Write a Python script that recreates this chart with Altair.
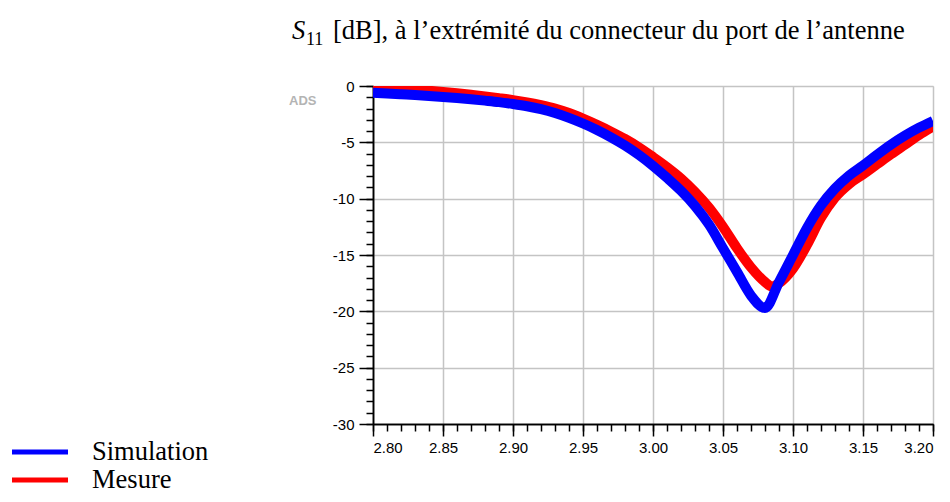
import altair as alt
import pandas as pd

# ---- data ----
freq_sim = [2.80, 2.81, 2.82, 2.83, 2.84, 2.85, 2.86, 2.87, 2.88, 2.89,
            2.90, 2.91, 2.92, 2.93, 2.94, 2.95, 2.96, 2.97, 2.98, 2.99,
            3.00, 3.01, 3.02, 3.03, 3.04, 3.05, 3.06, 3.07, 3.08, 3.09,
            3.10, 3.11, 3.12, 3.13, 3.14, 3.15, 3.16, 3.17, 3.18, 3.19, 3.20]
sim_db = [-0.60, -0.66, -0.73, -0.80, -0.88, -0.97, -1.07, -1.18, -1.30, -1.43,
          -1.60, -1.80, -2.06, -2.40, -2.83, -3.33, -3.90, -4.55, -5.28, -6.12,
          -7.08, -8.15, -9.30, -10.65, -12.30, -14.40, -16.50, -18.60, -19.70, -17.40,
          -15.00, -12.60, -10.60, -9.10, -7.95, -7.05, -6.10, -5.20, -4.40, -3.70, -3.10]

freq_mes = [2.80, 2.81, 2.82, 2.83, 2.84, 2.85, 2.86, 2.87, 2.88, 2.89,
            2.90, 2.91, 2.92, 2.93, 2.94, 2.95, 2.96, 2.97, 2.98, 2.99,
            3.00, 3.01, 3.02, 3.03, 3.04, 3.05, 3.06, 3.07, 3.08, 3.085, 3.09,
            3.10, 3.11, 3.12, 3.13, 3.14, 3.15, 3.16, 3.17, 3.18, 3.19, 3.20]
mes_db = [-0.15, -0.20, -0.26, -0.33, -0.42, -0.53, -0.65, -0.78, -0.92, -1.08,
          -1.25, -1.45, -1.70, -2.00, -2.40, -2.90, -3.45, -4.05, -4.70, -5.45,
          -6.30, -7.20, -8.20, -9.40, -10.80, -12.50, -14.40, -16.10, -17.40, -17.80, -17.50,
          -16.20, -14.10, -11.70, -9.90, -8.70, -7.85, -6.95, -6.05, -5.20, -4.35, -3.60]

series_names = ["Simulation", "Mesure"]
series_colors = ["#0000ff", "#ff0000"]

x_major = [2.80, 2.85, 2.90, 2.95, 3.00, 3.05, 3.10, 3.15, 3.20]
x_minor = [2.80, 2.81, 2.82, 2.83, 2.84, 2.85, 2.86, 2.87, 2.88, 2.89,
           2.90, 2.91, 2.92, 2.93, 2.94, 2.95, 2.96, 2.97, 2.98, 2.99,
           3.00, 3.01, 3.02, 3.03, 3.04, 3.05, 3.06, 3.07, 3.08, 3.09,
           3.10, 3.11, 3.12, 3.13, 3.14, 3.15, 3.16, 3.17, 3.18, 3.19, 3.20]
y_major = [0, -5, -10, -15, -20, -25, -30]
y_minor = list(range(0, -31, -1))

title_s = "S"
title_sub = "11"
title_rest = "[dB], à l’extrémité du connecteur du port de l’antenne"
ads_label = "ADS"

sim_df = pd.DataFrame({"freq": freq_sim, "db": sim_db})
mes_df = pd.DataFrame({"freq": freq_mes, "db": mes_db})

xscale = alt.Scale(domain=[2.80, 3.20], nice=False, zero=False)
yscale = alt.Scale(domain=[-30, 0], nice=False, zero=False)

SANS = "Liberation Sans"
SERIF = "Liberation Serif"

x_major_axis = alt.Axis(values=x_major, format=".2f", title=None, grid=True,
                        gridColor="#c4c4c4", gridWidth=1.5, tickSize=12, tickWidth=1.5,
                        tickColor="black", domainColor="black", domainWidth=1.5,
                        labelFont=SANS, labelFontSize=15, labelColor="black",
                        labelPadding=4, orient="bottom")
y_major_axis = alt.Axis(values=y_major, title=None, grid=True,
                        gridColor="#c4c4c4", gridWidth=1.5, tickSize=14, tickWidth=1.5,
                        tickColor="black", domainColor="black", domainWidth=1.5,
                        labelFont=SANS, labelFontSize=15, labelColor="black",
                        labelPadding=5, labelExpr="'' + datum.value", orient="left")

x_minor_axis = alt.Axis(values=x_minor, title=None, grid=False, labels=False,
                        tickSize=7, tickWidth=1.5, tickColor="black",
                        domainColor="black", domainWidth=1.5, orient="bottom")
y_minor_axis = alt.Axis(values=y_minor, title=None, grid=False, labels=False,
                        tickSize=7, tickWidth=1.5, tickColor="black",
                        domainColor="black", domainWidth=1.5, orient="left")

mes_line = alt.Chart(mes_df).mark_line(color=series_colors[1], strokeWidth=10,
                                       clip=True, interpolate="monotone").encode(
    x=alt.X("freq:Q", scale=xscale, axis=x_major_axis),
    y=alt.Y("db:Q", scale=yscale, axis=y_major_axis),
)
sim_line = alt.Chart(sim_df).mark_line(color=series_colors[0], strokeWidth=10,
                                       clip=True, interpolate="monotone").encode(
    x=alt.X("freq:Q", scale=xscale, axis=None),
    y=alt.Y("db:Q", scale=yscale, axis=None),
)
minor = alt.Chart(sim_df).mark_line(opacity=0).encode(
    x=alt.X("freq:Q", scale=xscale, axis=x_minor_axis),
    y=alt.Y("db:Q", scale=yscale, axis=y_minor_axis),
)

def txt(s, x, y, size, font=SERIF, style="normal", color="black", weight="normal", align="left"):
    return alt.Chart(pd.DataFrame({"t": [s]})).mark_text(
        font=font, fontSize=size, fontStyle=style, color=color, fontWeight=weight,
        align=align, baseline="alphabetic").encode(
        x=alt.value(x), y=alt.value(y), text="t:N")

title_layers = [
    txt(title_s, -81, -47, 26.5, style="italic"),
    txt(title_sub, -67, -41, 18),
    txt(title_rest, -40, -47, 26.5),
    txt(ads_label, -84, 19, 13, font=SANS, color="#b4b4b4", weight="bold"),
]

legend_layers = []
leg_y = [366, 394]
for name, col, ly in zip(series_names, series_colors, leg_y):
    legend_layers.append(
        alt.Chart(pd.DataFrame({"n": [name]})).mark_rule(color=col, strokeWidth=5).encode(
            x=alt.value(-361), x2=alt.value(-305), y=alt.value(ly)))
    legend_layers.append(txt(name, -281, ly + 8, 26.5))

chart = alt.layer(minor, mes_line, sim_line, *title_layers, *legend_layers).resolve_axis(
    x="independent", y="independent"
).properties(
    width=560, height=338,
    autosize=alt.AutoSizeParams(type="none"),
    padding={"left": 365, "top": 78, "right": 9, "bottom": 70},
).configure_view(stroke="black", strokeWidth=1.5).configure(background="white")

chart.save("out.html", embed_options={"renderer": "svg", "actions": False})
